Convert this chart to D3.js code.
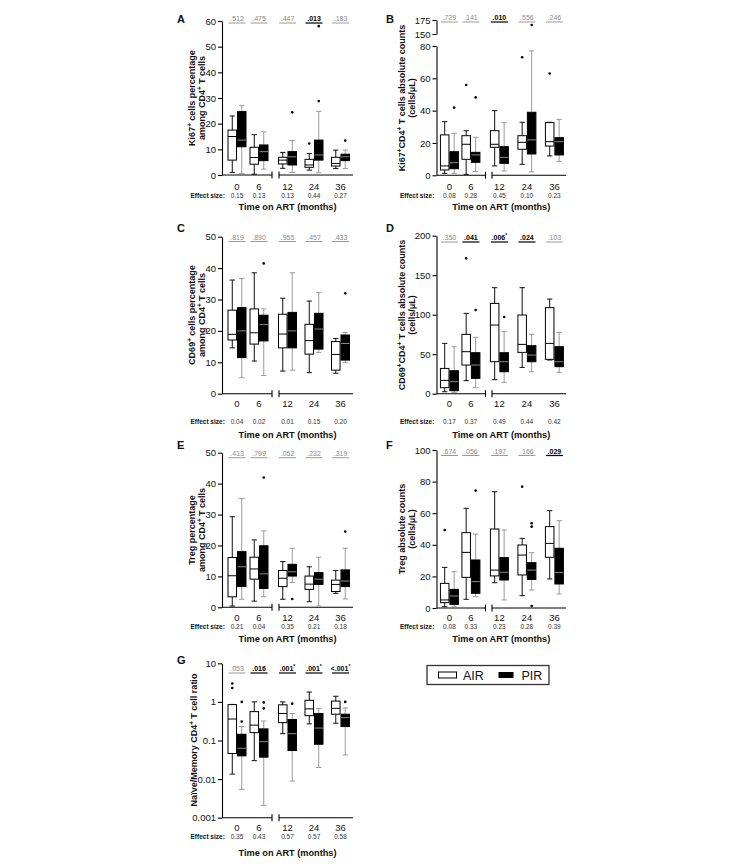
<!DOCTYPE html>
<html><head><meta charset="utf-8">
<script src="https://cdn.jsdelivr.net/npm/d3@7"></script>
<style>body{margin:0;background:#fff}svg{display:block}</style>
</head><body>
<svg id="c" width="752" height="867"></svg>
<script>
// ---------------- DATA ----------------
const months = ["0", "6", "12", "24", "36"];
const groups = ["AIR", "PIR"];
// five-number boxes: [low whisker, Q1, median, Q3, high whisker]
// A: Ki67+ % of CD4+
const ki67PctAIR = [[1.0,5.8,15,17.5,23],[0.3,4.2,6.8,10.8,15.7],[2.6,4.3,5.8,6.9,8.8],[1.9,3.0,3.9,6.1,8.4],[2.5,3.5,4.5,6.9,9.7]];
const ki67PctPIR = [[0.6,11,13.6,24.7,27],[2.3,5.6,9.1,11.7,16.8],[1.0,3.9,7.1,9.1,13.4],[0.9,5.8,7.8,13.6,24.8],[2.5,5.6,7.1,8.1,9.7]];
const ki67PctOutAIR = [["24",12.3]];
const ki67PctOutPIR = [["12",24.4],["24",28.8],["24",58],["36",13.4]];
const ki67PctP = [".512",".475",".447",".013",".183"];
const ki67PctSig = [0,0,0,1,0];
const ki67PctEff = ["0.15","0.13","0.13","0.44","0.27"];
// B: Ki67+CD4+ absolute
const ki67AbsAIR = [[1.2,3.3,5.8,25,33.2],[0.6,9.9,19.2,24.5,27.6],[5.8,17.3,19.2,27.6,40],[6.8,16.1,20.4,24.5,32.8],[12,18.1,20.8,32.6,32.8]];
const ki67AbsPIR = [[1.2,4.1,7.8,14.6,26],[2.3,8,12.6,14.2,23.5],[2.7,7.4,11.1,17.7,32.6],[2.1,13.2,21.9,39,77],[8.5,12.6,20.8,23.3,34.6]];
const ki67AbsOutAIR = [["6",55.9],["24",73],["36",63]];
const ki67AbsOutPIR = [["0",41.9],["6",48.2],["24",166]];
const ki67AbsP = [".729",".141",".010",".556",".246"];
const ki67AbsSig = [0,0,1,0,0];
const ki67AbsEff = ["0.08","0.28","0.45","0.10","0.23"];
// C: CD69+ % of CD4+
const cd69PctAIR = [[14.6,17.1,18.9,26.6,36.2],[10.4,15.8,19.4,27,38.5],[7.2,14.6,19,25.3,30.4],[6.7,12.6,16.9,22.1,29.5],[6.5,7.5,12.5,16.6,17.6]];
const cd69PctPIR = [[5.1,11.5,20,27.4,36.7],[5.8,16.8,22,25,27],[7.5,14.6,20,25.9,38.5],[13.1,14.2,20.6,25.6,32.2],[9.9,10.7,16,18.7,19.5]];
const cd69PctOutAIR = [];
const cd69PctOutPIR = [["6",41.5],["36",32]];
const cd69PctP = [".819",".890",".955",".457",".433"];
const cd69PctSig = [0,0,0,0,0];
const cd69PctEff = ["0.04","0.02","0.01","0.15","0.20"];
// D: CD69+CD4+ absolute
const cd69AbsAIR = [[2.5,7.6,16.9,32,63.7],[16.5,36.3,53.2,75.1,101.7],[17.7,40.5,86.9,114.3,134.2],[33.3,52.3,62.4,99.6,134.2],[42.6,43.5,63.7,108.9,119.8]];
const cd69AbsPIR = [[1.7,3.8,15.2,29.1,59.5],[7.6,19.4,36.3,51.9,71.3],[14.3,27.8,40.5,51.9,78.5],[27.8,40.5,48.9,60.8,75.1],[27,34.2,40.5,59.5,77.6]];
const cd69AbsOutAIR = [["6",171.3]];
const cd69AbsOutPIR = [["6",105.9],["12",97]];
const cd69AbsP = [".350",".041",".006*",".024",".103"];
const cd69AbsSig = [0,1,1,1,0];
const cd69AbsEff = ["0.17","0.37","0.49","0.44","0.42"];
// E: Treg %
const tregPctAIR = [[0.4,3.4,10.2,16.1,29.3],[2,9.1,12.4,16.2,21.8],[2.6,6.7,9.4,11.9,14.8],[1.8,5.8,7.5,10.1,13.1],[4.5,5.1,7.4,8.8,11.9]];
const tregPctPIR = [[2.6,6.7,13.1,18,35.2],[3.4,6.1,10.8,19.9,24.7],[8.0,10.1,11.5,13.9,19.1],[0.4,7.4,9.1,11.2,16.2],[2.7,6.7,8.5,12.1,19.1]];
const tregPctOutAIR = [];
const tregPctOutPIR = [["6",42],["12",2.7],["36",24.5]];
const tregPctP = [".413",".799",".052",".232",".319"];
const tregPctSig = [0,0,0,0,0];
const tregPctEff = ["0.21","0.04","0.35","0.21","0.18"];
// F: Treg absolute
const tregAbsAIR = [[0.8,3.4,5.1,15.6,25.7],[5.5,19.4,35.2,47.7,63.1],[16,20.3,24,50,73.6],[7.8,20.9,33.5,39.9,44.1],[18.4,32.1,40.9,51.5,61.6]];
const tregAbsPIR = [[0.8,2.3,7.6,11.8,23],[7.2,9.3,16.7,30.4,46.8],[5.1,17.7,22.6,31.9,49.4],[11.4,18.1,24,28.7,35],[8.9,15.2,22.4,37.8,55.3]];
const tregAbsOutAIR = [["0",49.4],["24",76.8]];
const tregAbsOutPIR = [["6",74.3],["24",53.6],["24",51.5],["24",1.3]];
const tregAbsP = [".674",".056",".197",".166",".029"];
const tregAbsSig = [0,0,0,0,1];
const tregAbsEff = ["0.08","0.33","0.23","0.28","0.39"];
// G: naive/memory ratio
const ratioAIR = [[0.0135,0.046,0.36,0.85,0.86],[0.03,0.16,0.25,0.56,1.0],[0.15,0.29,0.5,0.84,1.0],[0.27,0.44,0.66,1.1,1.8],[0.28,0.48,0.68,1.05,1.4]];
const ratioPIR = [[0.0054,0.04,0.063,0.145,0.23],[0.0021,0.037,0.093,0.2,0.32],[0.0089,0.055,0.15,0.35,0.5],[0.02,0.08,0.21,0.5,0.68],[0.042,0.23,0.39,0.48,0.7]];
const ratioOutAIR = [["0",3.0],["0",2.3]];
const ratioOutPIR = [["0",1.0],["0",0.31],["6",0.97],["6",0.68],["12",0.9],["36",1.0]];
const ratioP = [".053",".016",".001*",".001*","<.001*"];
const ratioSig = [0,1,1,1,1];
const ratioEff = ["0.35","0.43","0.57","0.57","0.58"];

const tickA = [0,10,20,30,40,50,60];
const tickBlo = [0,20,40,60,80];
const tickBhi = [150,175];
const tickC = [0,10,20,30,40,50];
const tickD = [0,50,100,150,200];
const tickE = [0,10,20,30,40,50];
const tickF = [0,20,40,60,80,100];
const tickG = [0.001,0.01,0.1,1,10];

// ---------------- LAYOUT ----------------
const FONT = "'Liberation Sans', Arial, Helvetica, sans-serif";
const svg = d3.select("#c");
svg.append("rect").attr("width",752).attr("height",867).attr("fill","#fff");

const cols = {
  L: {seg1: d3.scalePoint().domain(months.slice(0,2)).range([222,272]).padding(0.636).align(0.536),
      seg2: d3.scalePoint().domain(months.slice(2)).range([279,353]).padding(0.396).align(0.405),
      ylab: [194.5, 205], letterX: 177, effX: 190.5},
  R: {seg1: d3.scalePoint().domain(months.slice(0,2)).range([436.5,485.5]).padding(0.64).align(0.47),
      seg2: d3.scalePoint().domain(months.slice(2)).range([492,566]).padding(0.345).align(0.39),
      ylab: [405, 415], letterX: 386, effX: 400}
};
const band = d3.scaleBand().domain(groups).range([-9, 9]).paddingInner(0.1);

const panels = [
 {id:"A", col:"L", air:ki67PctAIR, pir:ki67PctPIR, oa:ki67PctOutAIR, op:ki67PctOutPIR, p:ki67PctP, sig:ki67PctSig, eff:ki67PctEff,
  ytitle:["Ki67^+ cells percentage","among CD4^+ T cells"], axes:[{dom:[0,60], rng:[175,21], ticks:tickA}],
  pLine:23, letterY:23, xLab:190, effY:197.5, titleY:209.5, yc:98},
 {id:"B", col:"R", air:ki67AbsAIR, pir:ki67AbsPIR, oa:ki67AbsOutAIR, op:ki67AbsOutPIR, p:ki67AbsP, sig:ki67AbsSig, eff:ki67AbsEff,
  ytitle:["Ki67^+CD4^+ T cells absolute counts","(cells/μL)"], axes:[{dom:[0,80], rng:[175.3,46], ticks:tickBlo},{dom:[150,175], rng:[34,20], ticks:tickBhi}],
  pLine:22, letterY:23, xLab:190, effY:197.5, titleY:209.5, yc:98},
 {id:"C", col:"L", air:cd69PctAIR, pir:cd69PctPIR, oa:cd69PctOutAIR, op:cd69PctOutPIR, p:cd69PctP, sig:cd69PctSig, eff:cd69PctEff,
  ytitle:["CD69^+ cells percentage","among CD4^+ T cells"], axes:[{dom:[0,50], rng:[393.7,236.7], ticks:tickC}],
  pLine:241.5, letterY:232, xLab:407, effY:423.5, titleY:437.5, yc:315},
 {id:"D", col:"R", air:cd69AbsAIR, pir:cd69AbsPIR, oa:cd69AbsOutAIR, op:cd69AbsOutPIR, p:cd69AbsP, sig:cd69AbsSig, eff:cd69AbsEff,
  ytitle:["CD69^+CD4^+ T cells absolute counts","(cells/μL)"], axes:[{dom:[0,200], rng:[393.7,235.7], ticks:tickD}],
  pLine:242, letterY:232, xLab:407, effY:423.5, titleY:437.5, yc:315},
 {id:"E", col:"L", air:tregPctAIR, pir:tregPctPIR, oa:tregPctOutAIR, op:tregPctOutPIR, p:tregPctP, sig:tregPctSig, eff:tregPctEff,
  ytitle:["Treg percentage","among  CD4^+ T cells"], axes:[{dom:[0,50], rng:[607.3,452.7], ticks:tickE}],
  pLine:457.7, letterY:449, xLab:620.5, effY:629, titleY:642, yc:530},
 {id:"F", col:"R", air:tregAbsAIR, pir:tregAbsPIR, oa:tregAbsOutAIR, op:tregAbsOutPIR, p:tregAbsP, sig:tregAbsSig, eff:tregAbsEff,
  ytitle:["Treg absolute counts","(cells/μL)"], axes:[{dom:[0,100], rng:[608,450], ticks:tickF}],
  pLine:455.5, letterY:449, xLab:620.5, effY:629, titleY:642, yc:529},
 {id:"G", col:"L", air:ratioAIR, pir:ratioPIR, oa:ratioOutAIR, op:ratioOutPIR, p:ratioP, sig:ratioSig, eff:ratioEff,
  ytitle:["Naïve/Memory CD4^+ T cell ratio"], log:true, axes:[{dom:[0.001,10], rng:[817.7,663.3], ticks:tickG}],
  pLine:673, letterY:664, xLab:830.5, effY:839, titleY:855.5, yc:740}
];

function supText(sel, str, size) {
  str.split(/(\^.)/).forEach(part => {
    if (!part) return;
    if (part[0] === "^") {
      sel.append("tspan").attr("font-size", size*0.7).attr("baseline-shift","super").text(part[1]);
    } else {
      sel.append("tspan").text(part);
    }
  });
}

function drawPanel(P) {
  const c = cols[P.col];
  const g = svg.append("g");
  const x = m => (c.seg1.domain().includes(m) ? c.seg1(m) : c.seg2(m));
  const axisX = c.seg1.range()[0];
  const scales = P.axes.map(a => (P.log ? d3.scaleLog() : d3.scaleLinear()).domain(a.dom).range(a.rng));
  const y = v => {
    for (let i = scales.length - 1; i >= 0; i--) {
      const d = scales[i].domain();
      if (v >= d[0] || i === 0) return scales[i](v);
    }
  };
  scales.forEach((s, i) => {
    const ax = g.append("g").attr("transform", `translate(${axisX},0)`)
      .call(d3.axisLeft(s).tickValues(P.axes[i].ticks).tickSize(4).tickSizeOuter(0).tickPadding(2)
        .tickFormat(d => String(d)));
    ax.select(".domain").attr("stroke","#000").attr("stroke-width",1.1);
    ax.selectAll(".tick line").attr("stroke","#000").attr("stroke-width",1.1);
    ax.selectAll(".tick text").attr("font-family",FONT).attr("font-size",9.5).attr("fill","#111");
  });
  const baseY = scales[0](scales[0].domain()[0]);
  [c.seg1, c.seg2].forEach(seg => {
    g.append("line").attr("x1",seg.range()[0]).attr("x2",seg.range()[1]).attr("y1",baseY).attr("y2",baseY)
      .attr("stroke","#000").attr("stroke-width",1.1);
  });
  [c.seg1.range()[1], c.seg2.range()[0]].forEach(bx => {
    g.append("line").attr("x1",bx).attr("x2",bx).attr("y1",baseY-3.5).attr("y2",baseY+3.5)
      .attr("stroke","#000").attr("stroke-width",1.1);
  });
  const bw = band.bandwidth();
  const capW = bw * 0.62;
  groups.forEach(grp => {
    const data = grp === "AIR" ? P.air : P.pir;
    const wcol = grp === "AIR" ? "#111" : "#9a9a9a";
    data.forEach((d, i) => {
      const x0 = x(months[i]) + band(grp);
      const cx = x0 + bw/2;
      const [lo, q1, med, q3, hi] = d;
      g.append("line").attr("x1",cx).attr("x2",cx).attr("y1",y(lo)).attr("y2",y(q1)).attr("stroke",wcol).attr("stroke-width",1);
      g.append("line").attr("x1",cx).attr("x2",cx).attr("y1",y(q3)).attr("y2",y(hi)).attr("stroke",wcol).attr("stroke-width",1);
      [lo, hi].forEach(v => g.append("line").attr("x1",cx-capW/2).attr("x2",cx+capW/2).attr("y1",y(v)).attr("y2",y(v)).attr("stroke",wcol).attr("stroke-width",1));
      g.append("rect").attr("x",x0).attr("width",bw).attr("y",y(q3)).attr("height",Math.max(0.5,y(q1)-y(q3)))
        .attr("fill", grp === "AIR" ? "#fff" : "#000").attr("stroke","#000").attr("stroke-width",1);
      g.append("line").attr("x1",x0).attr("x2",x0+bw).attr("y1",y(med)).attr("y2",y(med))
        .attr("stroke", grp === "AIR" ? "#000" : "#8a8a8a").attr("stroke-width",1);
    });
    const outs = grp === "AIR" ? P.oa : P.op;
    outs.forEach(o => {
      g.append("circle").attr("cx", x(o[0]) + band(grp) + bw/2).attr("cy", y(o[1])).attr("r",1.3).attr("fill","#000");
    });
  });
  months.forEach((m, i) => {
    const s = P.sig[i];
    g.append("line").attr("x1",x(m)-8.5).attr("x2",x(m)+8.5).attr("y1",P.pLine).attr("y2",P.pLine)
      .attr("stroke", s ? "#000" : "#9a9a9a").attr("stroke-width", s ? 1.2 : 1);
    const t = g.append("text").attr("x",x(m)).attr("y",P.pLine-1.8).attr("text-anchor","middle")
      .attr("font-family",FONT).attr("font-size",7).attr("font-weight", s ? "bold" : "normal")
      .attr("fill", s ? "#000" : "#8a8a8a");
    const txt = P.p[i];
    if (txt.endsWith("*")) {
      t.append("tspan").text(txt.slice(0,-1));
      t.append("tspan").attr("font-size",5).attr("baseline-shift","super").text("*");
    } else t.text(txt);
  });
  months.forEach((m, i) => {
    g.append("text").attr("x",x(m)).attr("y",P.xLab).attr("text-anchor","middle")
      .attr("font-family",FONT).attr("font-size",9.5).attr("fill","#111").text(m);
    g.append("text").attr("x",x(m)).attr("y",P.effY).attr("text-anchor","middle")
      .attr("font-family",FONT).attr("font-size",6.5).attr("fill","#333").text(P.eff[i]);
  });
  g.append("text").attr("x",c.effX).attr("y",P.effY).attr("font-family",FONT).attr("font-size",6.5)
    .attr("font-weight","bold").attr("fill","#111").text("Effect size:");
  const cxMid = (c.seg1.range()[0] + c.seg2.range()[1]) / 2;
  g.append("text").attr("x",cxMid).attr("y",P.titleY).attr("text-anchor","middle")
    .attr("font-family",FONT).attr("font-size",9.2).attr("font-weight","bold").attr("fill","#111").text("Time on ART (months)");
  const lines = P.ytitle;
  const xs = lines.length === 1 ? [(c.ylab[0] + c.ylab[1]) / 2 - 3] : c.ylab;
  lines.forEach((ln, k) => {
    const t = g.append("text").attr("transform",`translate(${xs[k]},${P.yc}) rotate(-90)`).attr("text-anchor","middle")
      .attr("font-family",FONT).attr("font-size",9).attr("font-weight","bold").attr("fill","#111");
    supText(t, ln, 9);
  });
  g.append("text").attr("x",c.letterX).attr("y",P.letterY).attr("font-family",FONT).attr("font-size",11)
    .attr("font-weight","bold").attr("fill","#111").text(P.id);
}
panels.forEach(drawPanel);

// legend
const lg = svg.append("g");
lg.append("rect").attr("x",427).attr("y",665.5).attr("width",122).attr("height",19).attr("fill","none").attr("stroke","#333").attr("stroke-width",1.3);
lg.append("rect").attr("x",438.5).attr("y",672).attr("width",18).attr("height",6).attr("fill","#fff").attr("stroke","#000").attr("stroke-width",1);
lg.append("text").attr("x",463).attr("y",679.5).attr("font-family",FONT).attr("font-size",12.5).attr("fill","#111").text(groups[0]);
lg.append("rect").attr("x",498.5).attr("y",672).attr("width",15).attr("height",6).attr("fill","#000");
lg.append("text").attr("x",521.5).attr("y",679.5).attr("font-family",FONT).attr("font-size",12.5).attr("fill","#111").text(groups[1]);
</script>
</body></html>
